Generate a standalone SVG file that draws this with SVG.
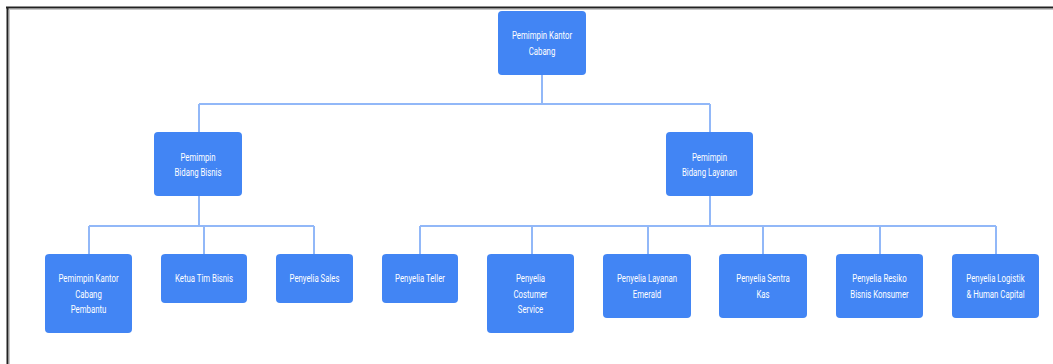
<svg xmlns="http://www.w3.org/2000/svg" width="1053" height="364" viewBox="0 0 1053 364">
<style>
.n{fill:#4285F4;}
.t{fill:#ffffff;font-family:Roboto,"Liberation Sans",sans-serif;font-size:11px;text-anchor:middle;}
.c{stroke:#92B8F8;stroke-width:2;fill:none;}
</style>
<rect x="0" y="0" width="1053" height="364" fill="#ffffff"/>
<g id="frame">
<line x1="7" y1="9.5" x2="1053" y2="9.5" stroke="#c8c8c8" stroke-width="1"/>
<line x1="9.5" y1="9" x2="9.5" y2="364" stroke="#c8c8c8" stroke-width="1"/>
<line x1="6" y1="7.5" x2="1053" y2="7.5" stroke="#222" stroke-width="2"/>
<line x1="7.5" y1="7" x2="7.5" y2="364" stroke="#222" stroke-width="2"/>
</g>
<g id="connectors" class="c">
<path d="M542 75V104M199 104H710M199 104V132M710 104V132"/>
<path d="M199 196V226M89 226H314M89 226V254M204 226V254M314 226V254"/>
<path d="M710 196V226M420 226H996M420 226V254M532 226V254M648 226V254M763 226V254M880 226V254M996 226V254"/>
</g>
<g id="n-root"><rect class="n" x="498" y="11" width="88" height="64" rx="4"/>
<text class="t" transform="translate(542,39) scale(0.71,1)">Pemimpin Kantor</text>
<text class="t" transform="translate(542,55) scale(0.71,1)">Cabang</text></g>
<g id="n-bisnis"><rect class="n" x="154" y="132" width="88" height="64" rx="4"/>
<text class="t" transform="translate(198,161) scale(0.71,1)">Pemimpin</text>
<text class="t" transform="translate(198,176) scale(0.71,1)">Bidang Bisnis</text></g>
<g id="n-layanan"><rect class="n" x="666" y="132" width="87" height="64" rx="4"/>
<text class="t" transform="translate(709.5,161) scale(0.71,1)">Pemimpin</text>
<text class="t" transform="translate(709.5,176) scale(0.71,1)">Bidang Layanan</text></g>
<g id="n-kcp"><rect class="n" x="45" y="254" width="87" height="79" rx="4"/>
<text class="t" transform="translate(88.5,282) scale(0.71,1)">Pemimpin Kantor</text>
<text class="t" transform="translate(88.5,298) scale(0.71,1)">Cabang</text>
<text class="t" transform="translate(88.5,313) scale(0.71,1)">Pembantu</text></g>
<g id="n-ketua"><rect class="n" x="161" y="254" width="86" height="49" rx="4"/>
<text class="t" transform="translate(204,282) scale(0.71,1)">Ketua Tim Bisnis</text></g>
<g id="n-sales"><rect class="n" x="276" y="254" width="77" height="49" rx="4"/>
<text class="t" transform="translate(314.5,282) scale(0.71,1)">Penyelia Sales</text></g>
<g id="n-teller"><rect class="n" x="382" y="254" width="76" height="49" rx="4"/>
<text class="t" transform="translate(420,282) scale(0.71,1)">Penyelia Teller</text></g>
<g id="n-cs"><rect class="n" x="487" y="254" width="87" height="79" rx="4"/>
<text class="t" transform="translate(530.5,282) scale(0.71,1)">Penyelia</text>
<text class="t" transform="translate(530.5,298) scale(0.71,1)">Costumer</text>
<text class="t" transform="translate(530.5,313) scale(0.71,1)">Service</text></g>
<g id="n-emerald"><rect class="n" x="603" y="254" width="88" height="64" rx="4"/>
<text class="t" transform="translate(647,282) scale(0.71,1)">Penyelia Layanan</text>
<text class="t" transform="translate(647,298) scale(0.71,1)">Emerald</text></g>
<g id="n-kas"><rect class="n" x="719" y="254" width="88" height="64" rx="4"/>
<text class="t" transform="translate(763,282) scale(0.71,1)">Penyelia Sentra</text>
<text class="t" transform="translate(763,298) scale(0.71,1)">Kas</text></g>
<g id="n-resiko"><rect class="n" x="836" y="254" width="87" height="64" rx="4"/>
<text class="t" transform="translate(879.5,282) scale(0.71,1)">Penyelia Resiko</text>
<text class="t" transform="translate(879.5,298) scale(0.71,1)">Bisnis Konsumer</text></g>
<g id="n-logistik"><rect class="n" x="952" y="254" width="87" height="64" rx="4"/>
<text class="t" transform="translate(995.5,282) scale(0.71,1)">Penyelia Logistik</text>
<text class="t" transform="translate(995.5,298) scale(0.71,1)">&amp; Human Capital</text></g>
</svg>
